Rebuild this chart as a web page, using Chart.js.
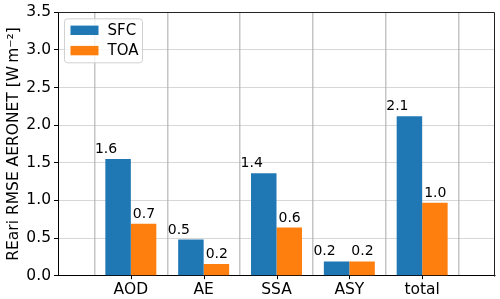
<!DOCTYPE html>
<html>
<head>
<meta charset="utf-8">
<script src="https://cdn.jsdelivr.net/npm/chart.js@4.4.1/dist/chart.umd.min.js"></script>
<style>
  html, body { margin: 0; padding: 0; background: #fff; }
  #wrap { width: 500px; height: 299px; }
</style>
</head>
<body>
<div id="wrap"><canvas id="rmseChart" width="500" height="299"></canvas></div>
<script>
// data
const categories = ['AOD', 'AE', 'SSA', 'ASY', 'total'];
const sfcValues = [1.55, 0.48, 1.36, 0.19, 2.12];
const toaValues = [0.69, 0.155, 0.64, 0.19, 0.97];
const yTicks = [0, 0.5, 1.0, 1.5, 2.0, 2.5, 3.0, 3.5];
const seriesNames = ['SFC', 'TOA'];
const seriesColors = ['#1f77b4', '#ff7f0e'];

const FONT = 'DejaVu Sans';

// one empty slot on each side so the grid falls between the groups
const labels = [''].concat(categories, ['']);
const pad = arr => [null].concat(arr, [null]);

// value labels above the bars
const barText = {
    id: 'barText',
    afterDraw(chart) {
        const ctx = chart.ctx;
        const x = chart.scales.x;
        ctx.save();
        ctx.font = '14px "' + FONT + '"';
        ctx.fillStyle = '#000';
        ctx.textAlign = 'left';
        ctx.textBaseline = 'alphabetic';
        chart.data.datasets.forEach((ds, di) => {
            const meta = chart.getDatasetMeta(di);
            meta.data.forEach((bar, i) => {
                const v = ds.data[i];
                if (v == null) return;
                let tx;
                if (di === 0) tx = x.getPixelForValue(i - 0.5) + 0.5;
                else tx = x.getPixelForValue(i) + 2;
                ctx.fillText(v.toFixed(1), tx, bar.y - 6);
            });
        });
        ctx.restore();
    }
};

// x tick marks under the groups, frame, legend box
const extras = {
    id: 'extras',
    afterDraw(chart) {
        const ctx = chart.ctx;
        const a = chart.chartArea;
        const x = chart.scales.x;
        ctx.save();
        ctx.strokeStyle = '#000';
        ctx.lineWidth = 1;
        categories.forEach((c, i) => {
            const px = Math.round(x.getPixelForValue(i + 1)) + 0.5;
            ctx.beginPath();
            ctx.moveTo(px, a.bottom);
            ctx.lineTo(px, a.bottom + 3.5);
            ctx.stroke();
        });
        ctx.strokeStyle = '#222';
        ctx.beginPath();
        ctx.moveTo(Math.round(a.left) + 0.5, Math.round(a.top) + 0.5);
        ctx.lineTo(Math.round(a.right) - 0.5, Math.round(a.top) + 0.5);
        ctx.lineTo(Math.round(a.right) - 0.5, Math.round(a.bottom) + 0.5);
        ctx.stroke();

        // legend
        const lx = a.left + 6.5, ly = a.top + 6.5, lw = 78, lh = 44;
        ctx.fillStyle = 'rgba(255,255,255,0.8)';
        ctx.strokeStyle = 'rgba(204,204,204,0.9)';
        ctx.beginPath();
        ctx.roundRect(lx, ly, lw, lh, 3);
        ctx.fill();
        ctx.stroke();
        ctx.font = '15px "' + FONT + '"';
        ctx.textBaseline = 'middle';
        ctx.textAlign = 'left';
        chart.data.datasets.forEach((ds, i) => {
            const cy = ly + 11.5 + i * 20.3;
            ctx.fillStyle = ds.backgroundColor;
            ctx.fillRect(lx + 6, cy - 4.7, 28, 9.4);
            ctx.fillStyle = '#000';
            ctx.fillText(ds.label, lx + 43, cy + 0.5);
        });
        ctx.restore();
    }
};

const ctx = document.getElementById('rmseChart').getContext('2d');
new Chart(ctx, {
    type: 'bar',
    data: {
        labels: labels,
        datasets: seriesNames.map((name, i) => ({
            label: name,
            data: pad(i === 0 ? sfcValues : toaValues),
            backgroundColor: seriesColors[i],
            borderWidth: 0,
            categoryPercentage: 0.7,
            barPercentage: 1.0
        }))
    },
    options: {
        responsive: false,
        animation: false,
        devicePixelRatio: 1,
        layout: { padding: { top: 10, right: 4, bottom: 0, left: 0 } },
        plugins: {
            legend: { display: false },
            tooltip: { enabled: false }
        },
        scales: {
            x: {
                offset: false,
                z: 1,
                grid: {
                    offset: true,
                    color: 'rgba(150,150,150,0.55)',
                    lineWidth: 1.5,
                    drawTicks: false
                },
                border: { color: '#000', width: 1 },
                ticks: {
                    color: '#000',
                    padding: 5,
                    font: { family: FONT, size: 15.5 },
                    maxRotation: 0,
                    autoSkip: false
                },
                afterFit: s => { s.height = 23.3; }
            },
            y: {
                min: 0,
                max: 3.5,
                z: 1,
                afterBuildTicks: s => { s.ticks = yTicks.map(v => ({ value: v })); },
                grid: {
                    color: 'rgba(176,176,176,0.5)',
                    lineWidth: 1,
                    tickColor: '#000',
                    tickLength: 4
                },
                border: { color: '#000', width: 1 },
                ticks: {
                    color: '#000',
                    padding: 3,
                    font: { family: FONT, size: 15.5 },
                    callback: v => Number(v).toFixed(1)
                },
                title: {
                    display: true,
                    text: 'REari RMSE AERONET [W\u2009m\u207B\u00B2]',
                    color: '#000',
                    font: { family: FONT, size: 15.5 },
                    padding: { top: 5, bottom: 0 }
                },
                afterFit: s => { s.width = 58; }
            }
        }
    },
    plugins: [barText, extras]
});
</script>
</body>
</html>
